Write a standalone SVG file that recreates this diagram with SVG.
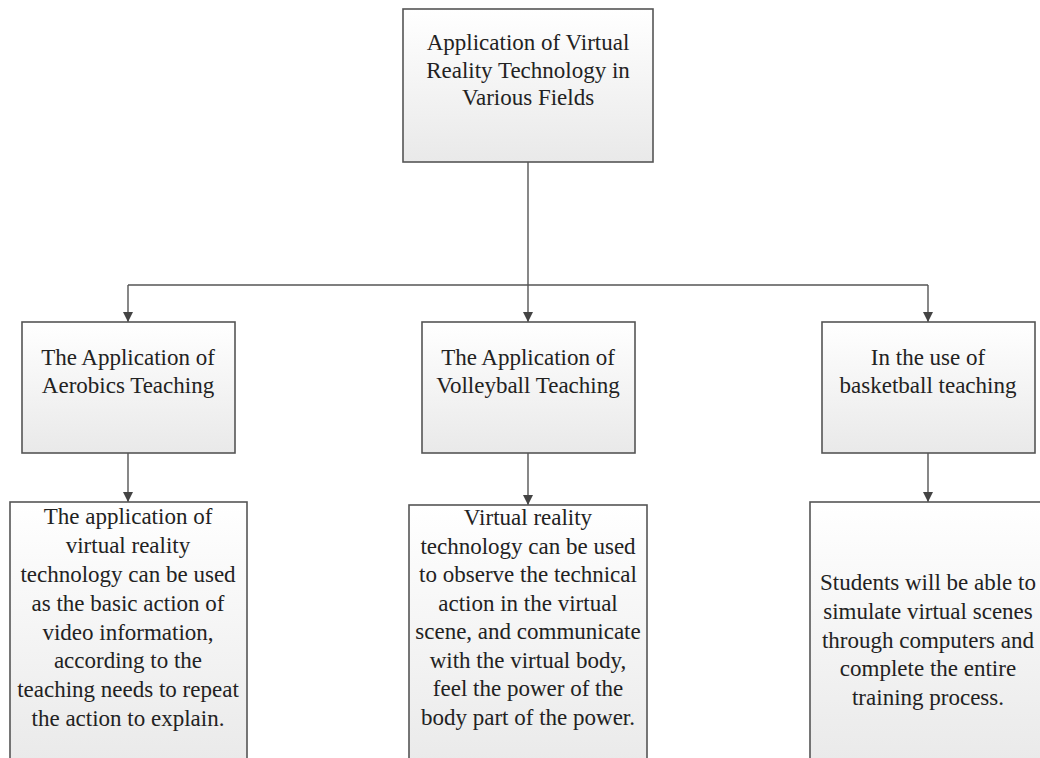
<svg xmlns="http://www.w3.org/2000/svg" width="1040" height="758" viewBox="0 0 1040 758">
<defs>
<linearGradient id="g" x1="0" y1="0" x2="0" y2="1">
<stop offset="0" stop-color="#ffffff"/>
<stop offset="1" stop-color="#e9e9e9"/>
</linearGradient>
<marker id="arr" viewBox="0 0 10 10" refX="10" refY="5" markerWidth="10" markerHeight="10" markerUnits="userSpaceOnUse" orient="auto">
<path d="M0,0 L10,5 L0,10 Z" fill="#444"/>
</marker>
<style>
.box{fill:url(#g);stroke:#555;stroke-width:1.6}
.t{font-family:"Liberation Serif","Times New Roman",serif;font-size:23px;fill:#222;text-anchor:middle}
.c{fill:none;stroke:#555;stroke-width:1.4}
</style>
</defs>
<rect width="1040" height="758" fill="#fff"/>
<g id="connectors">
<path class="c" d="M528,162 V285"/>
<path class="c" d="M128,285 H928"/>
<path class="c" d="M128,285 V322" marker-end="url(#arr)"/>
<path class="c" d="M528,285 V322" marker-end="url(#arr)"/>
<path class="c" d="M928,285 V322" marker-end="url(#arr)"/>
<path class="c" d="M128,453 V502" marker-end="url(#arr)"/>
<path class="c" d="M528,453 V505" marker-end="url(#arr)"/>
<path class="c" d="M928,453 V502" marker-end="url(#arr)"/>
</g>
<g id="root">
<rect class="box" x="403" y="9" width="250" height="153"/>
<text class="t"><tspan x="528" y="50">Application of Virtual</tspan><tspan x="528" y="78">Reality Technology in</tspan><tspan x="528" y="105">Various Fields</tspan></text>
</g>
<g id="aerobics">
<rect class="box" x="22" y="322" width="213" height="131"/>
<text class="t"><tspan x="128" y="365">The Application of</tspan><tspan x="128" y="393">Aerobics Teaching</tspan></text>
</g>
<g id="volleyball">
<rect class="box" x="422" y="322" width="213" height="131"/>
<text class="t"><tspan x="528" y="365">The Application of</tspan><tspan x="528" y="393">Volleyball Teaching</tspan></text>
</g>
<g id="basketball">
<rect class="box" x="822" y="322" width="213" height="131"/>
<text class="t"><tspan x="928" y="365">In the use of</tspan><tspan x="928" y="393">basketball teaching</tspan></text>
</g>
<g id="aerobics-detail">
<rect class="box" x="10" y="502" width="237" height="270"/>
<text class="t"><tspan x="128" y="524">The application of</tspan><tspan x="128" y="553">virtual reality</tspan><tspan x="128" y="582">technology can be used</tspan><tspan x="128" y="611">as the basic action of</tspan><tspan x="128" y="640">video information,</tspan><tspan x="128" y="668">according to the</tspan><tspan x="128" y="697">teaching needs to repeat</tspan><tspan x="128" y="726">the action to explain.</tspan></text>
</g>
<g id="volleyball-detail">
<rect class="box" x="409" y="505" width="238" height="270"/>
<text class="t"><tspan x="528" y="525">Virtual reality</tspan><tspan x="528" y="554">technology can be used</tspan><tspan x="528" y="582">to observe the technical</tspan><tspan x="528" y="611">action in the virtual</tspan><tspan x="528" y="639">scene, and communicate</tspan><tspan x="528" y="668">with the virtual body,</tspan><tspan x="528" y="696">feel the power of the</tspan><tspan x="528" y="725">body part of the power.</tspan></text>
</g>
<g id="basketball-detail">
<rect class="box" x="810" y="502" width="240" height="270"/>
<text class="t"><tspan x="928" y="590">Students will be able to</tspan><tspan x="928" y="619">simulate virtual scenes</tspan><tspan x="928" y="648">through computers and</tspan><tspan x="928" y="676">complete the entire</tspan><tspan x="928" y="705">training process.</tspan></text>
</g>
</svg>
